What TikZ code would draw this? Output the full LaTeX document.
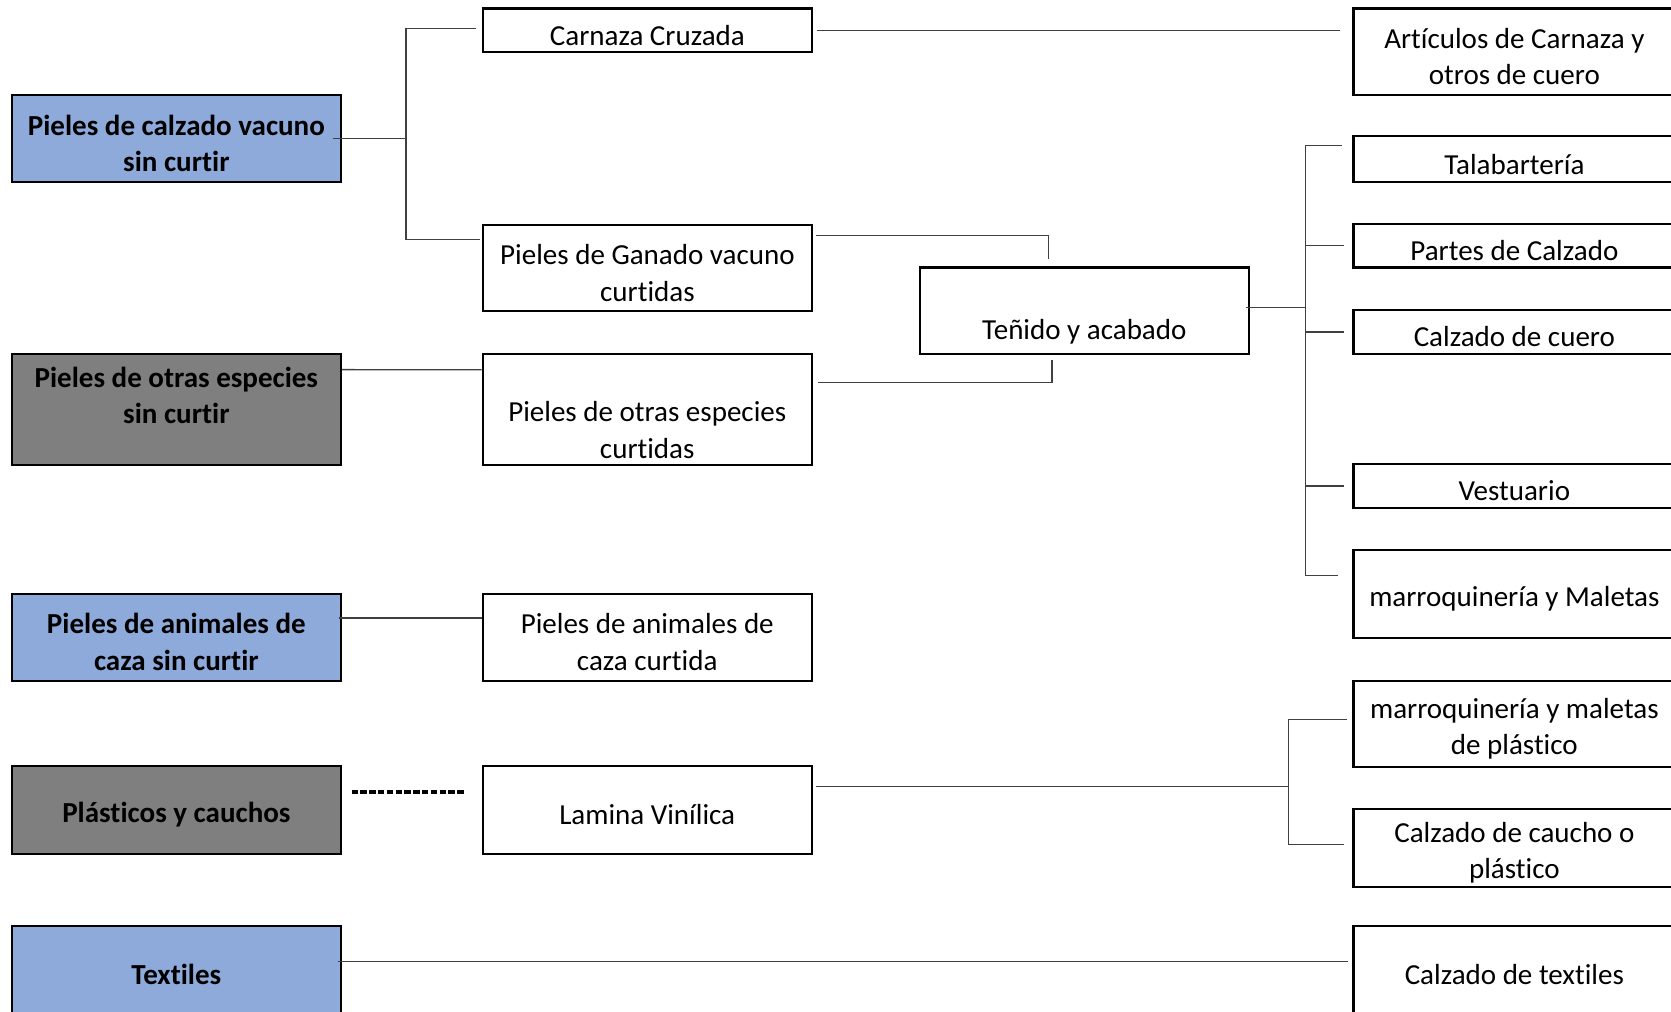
\documentclass[tikz,border=0pt]{standalone}
\usepackage{fontspec}
\setmainfont{Carlito}[Ligatures=CommonOff]
\usetikzlibrary{positioning,calc}
\definecolor{Azul}{HTML}{8EAADB}
\definecolor{Gris}{HTML}{7F7F7F}
\tikzset{
  rawbox/.style={draw=black, line width=1.1pt, minimum width=6.18cm, inner sep=2pt,
    align=center, font=\fontsize{15.5}{19.4}\selectfont\bfseries, fill=#1},
  rawbox/.default={white},
  prodbox/.style={draw=black, line width=1.1pt, minimum width=6.18cm, inner sep=2pt,
    align=center, font=\fontsize{15.5}{19.4}\selectfont, fill=white},
  finalbox/.style={prodbox, minimum width=6.04cm},
  link/.style={draw=black!75, line width=0.7pt},
  dashlink/.style={draw=black, line width=1.8pt, dash pattern=on 3.4pt off 1.3pt},
}
\newcommand{\tope}{\rule{0pt}{16pt}}
\newcommand{\bajar}{\rule{0pt}{33pt}}
\newcommand{\subir}{\rule[-20pt]{0pt}{0pt}}

\begin{document}
\begin{tikzpicture}[x=0.02cm, y=-0.02cm]
  \useasboundingbox (0,0) rectangle (1568,949);
  \fill[white] (0,0) rectangle (1568,949);
  \clip (0,0) rectangle (1568,949);

  % materias primas
  \node[rawbox=Azul, minimum height=1.64cm] (l1) at (165.5,130) {\tope Pieles de calzado vacuno\\sin curtir};
  \node[rawbox=Gris, minimum height=2.08cm] (l2) at (165.5,384) {\tope Pieles de otras especies\\sin curtir\subir};
  \node[rawbox=Azul, minimum height=1.64cm] (l3) at (165.5,598) {\tope Pieles de animales de\\caza sin curtir};
  \node[rawbox=Gris, minimum height=1.64cm] (l4) at (165.5,760) {\tope Plásticos y cauchos};
  \node[rawbox=Azul, minimum height=1.64cm] (l5) at (165.5,910) {\tope Textiles};

  % curtido
  \node[prodbox, minimum height=0.82cm] (carnaza) at (607.5,28.5) {\tope Carnaza Cruzada};
  \node[prodbox, minimum height=1.62cm] (ganado) at (607.5,251.5) {\tope Pieles de Ganado vacuno\\curtidas};
  \node[prodbox, minimum height=2.08cm, right=2.62cm of l2] (otras) {\bajar Pieles de otras especies\\curtidas};
  \node[prodbox, minimum height=1.64cm, right=2.62cm of l3] (caza) {\tope Pieles de animales de\\caza curtida};
  \node[prodbox, minimum height=1.64cm, right=2.62cm of l4] (lamina) {\tope Lamina Vinílica};

  % acabado
  \node[prodbox, minimum height=1.62cm] (tenido) at (1017.5,291.5) {\bajar Teñido y acabado};

  % productos finales
  \node[finalbox, minimum height=1.62cm] (art) at (1421,48.5) {\tope Artículos de Carnaza y\\otros de cuero};
  \node[finalbox, minimum height=0.86cm] (tala) at (1421,149.5) {\tope Talabartería};
  \node[finalbox, minimum height=0.82cm] (partes) at (1421,230.5) {\tope Partes de Calzado};
  \node[finalbox, minimum height=0.82cm] (cuero) at (1421,311.5) {\tope Calzado de cuero};
  \node[finalbox, minimum height=0.84cm] (vest) at (1421,456) {\tope Vestuario};
  \node[finalbox, minimum height=1.66cm] (marr) at (1421,557.5) {\tope marroquinería y Maletas};
  \node[finalbox, minimum height=1.62cm] (marrp) at (1421,679.5) {\tope marroquinería y maletas\\de plástico};
  \node[finalbox, minimum height=1.38cm] (caucho) at (1421,795.5) {\tope Calzado de caucho o\\plástico};
  \node[finalbox, minimum height=1.64cm] (textil) at (1421,910) {\tope Calzado de textiles};

  % conexiones
  \coordinate (sp1) at (381,130);
  \draw[link] ($(l1.east)+(-8,0)$) -- (sp1);
  \draw[link] ($(carnaza.west)+(-5,-2)$) -| (sp1) |- ($(ganado.north west)+(-2,15)$);
  \draw[link] ($(carnaza.east)+(4,0)$) -- ($(carnaza.east -| art.west)+(-12,0)$);
  \draw[link] ($(ganado.north east)+(3,11)$) -| ($(tenido.north west)+(122,-7)$);
  \draw[link] ($(otras.north east)+(5,28)$) -| ($(tenido.south west)+(125,5)$);
  \draw[link] ($(l2.north east)+(0,16)$) -- ($(otras.north west)+(0,16)$);

  \coordinate (sp2) at ($(tenido.east)+(52,-3)$);
  \draw[link] ($(tenido.east)+(-4,-3)$) -- (sp2);
  \draw[link] ($(tala.west)+(-10,-13)$) -| (sp2) |- ($(marr.north west)+(-14,25)$);
  \foreach \n in {partes,cuero,vest}
    \draw[link] (sp2 |- \n.west) -- ($(\n.west)+(-8,0)$);

  \draw[link] ($(l3.north east)+(-3,24)$) -- ($(caza.north west)+(0,24)$);
  \draw[dashlink] ($(l4.north east)+(9,25)$) -- ($(lamina.north west)+(-16,25)$);

  \coordinate (sp3) at ($(lamina.east)+(446,-22)$);
  \draw[link] ($(lamina.east)+(3,-22)$) -- (sp3);
  \draw[link] ($(marrp.west)+(-5,-4.5)$) -| (sp3) |- ($(caucho.north west)+(-8,35)$);

  \draw[link] ($(l5.east)+(-4,-8)$) -- ($(l5.east -| textil.west)+(-4,-8)$);
\end{tikzpicture}
\end{document}
